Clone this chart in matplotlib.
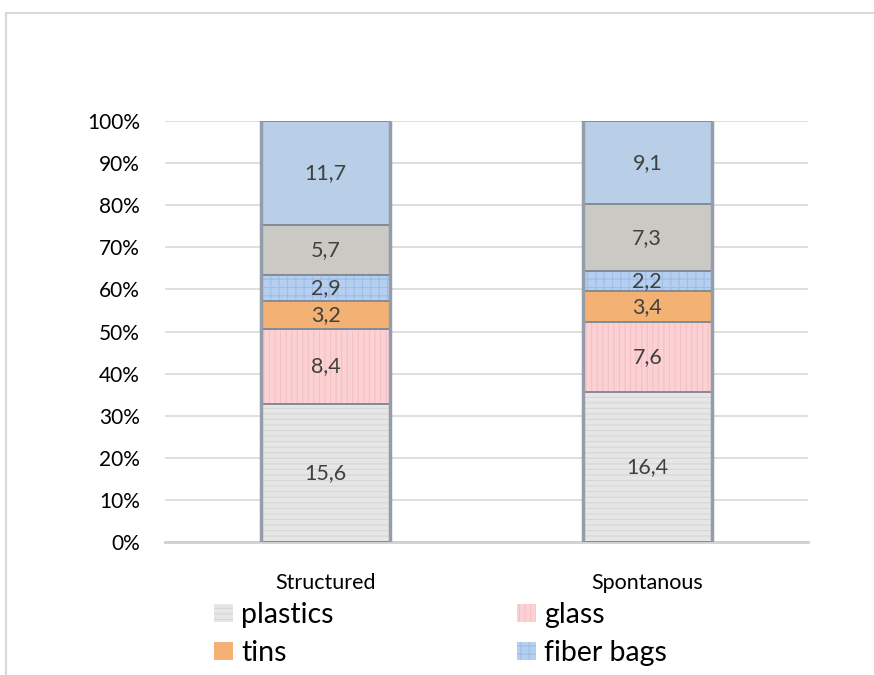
import matplotlib.pyplot as plt
import numpy as np
from matplotlib.patches import Rectangle

plt.rcParams['font.family'] = ['Lato', 'DejaVu Sans']
plt.rcParams['hatch.linewidth'] = 0.8

groups = ['Structured', 'Spontanous']

# tonnage per fraction, stacked bottom to top
plastics = [15.6, 16.4]
glass = [8.4, 7.6]
tins = [3.2, 3.4]
fiber_bags = [2.9, 2.2]
grey_fraction = [5.7, 7.3]
blue_fraction = [11.7, 9.1]

series = [
    ('plastics', plastics, '#e6e6e6', '#d6d6d6', '---'),
    ('glass', glass, '#fbd1d4', '#f4c0c4', '|||'),
    ('tins', tins, '#f3b273', '#e9a060', None),
    ('fiber bags', fiber_bags, '#b5cff0', '#9fbde6', '++'),
    ('_grey', grey_fraction, '#cbc9c4', '#cbc9c4', None),
    ('_blue', blue_fraction, '#b9cee7', '#b9cee7', None),
]

totals = np.sum([s[1] for s in series], axis=0)

fig = plt.figure(figsize=(8.74, 6.75), dpi=100)
ax = fig.add_axes([0.1888, 0.197, 0.7357, 0.6237])

x = np.arange(len(groups))
bottom = np.zeros(len(groups))
handles = {}
for name, vals, face, hatch_col, hatch in series:
    share = np.array(vals) / totals * 100
    bars = ax.bar(x, share, 0.4, bottom=bottom, color=face, edgecolor=hatch_col,
                  linewidth=0, hatch=hatch, zorder=2)
    ax.bar(x, share, 0.4, bottom=bottom, fill=False, edgecolor='#848c99',
           linewidth=1.4, zorder=3)
    for xi, b, s, v in zip(x, bottom, share, vals):
        ax.text(xi, b + s / 2, f'{v:.1f}'.replace('.', ','), ha='center', va='center',
                fontsize=15.5, color='#404040', zorder=4)
    handles[name] = bars
    bottom += share

# darker sides on each column
for xi in x:
    for edge in (xi - 0.2, xi + 0.2):
        ax.plot([edge, edge], [0, 100], color='#959dab', linewidth=2.5, zorder=3.5,
                solid_capstyle='butt')

ax.set_xlim(-0.5, 1.5)
ax.set_ylim(0, 100)
ax.set_yticks(np.arange(0, 101, 10))
ax.set_yticklabels([f'{t}%' for t in range(0, 101, 10)])
ax.set_xticks(x)
ax.set_xticklabels(groups)
ax.tick_params(axis='y', length=0, pad=18, labelsize=15)
ax.tick_params(axis='x', length=0, pad=22, labelsize=15.5)
ax.grid(axis='y', color='#d9d9d9', linewidth=1.2, zorder=0)
ax.set_axisbelow(True)
for side in ['top', 'right', 'left']:
    ax.spines[side].set_visible(False)
ax.spines['bottom'].set_color('#d0d0d0')
ax.spines['bottom'].set_linewidth(2)

order = ['plastics', 'tins', 'glass', 'fiber bags']
fig.legend([handles[k] for k in order], order, ncol=2, frameon=False,
           loc='upper left', bbox_to_anchor=(0.245, 0.108), fontsize=20.5,
           handlelength=0.65, handleheight=0.6, handletextpad=0.3,
           columnspacing=6.45, labelspacing=0.42, borderaxespad=0, borderpad=0)

# outer chart frame
fig.patches.append(Rectangle((5.5 / 874, -0.05), 1.1, 1 - 12.5 / 675 + 0.05,
                             transform=fig.transFigure, fill=False,
                             edgecolor='#d9d9d9', linewidth=1.5))

fig.savefig('out.png', dpi=100)
